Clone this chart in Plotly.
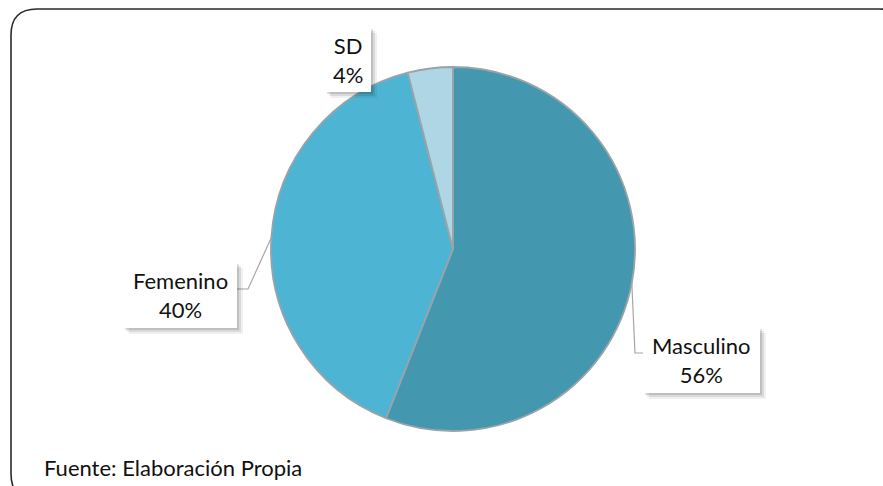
import math
import plotly.graph_objects as go

# ---- data ----
categories = ["Masculino", "Femenino", "SD"]
values = [56, 40, 4]
colors = ["#4397AE", "#4DB5D3", "#AED6E4"]
source_text = "Fuente: Elaboración Propia"

W, H = 883, 486

def px(x):
    return x / W

def py(y):
    return 1 - y / H

# pie geometry (pixels)
CX, CY, R = 453, 249, 182

fig = go.Figure()
fig.add_trace(go.Pie(
    labels=categories,
    values=values,
    sort=False,
    direction="clockwise",
    rotation=0,
    marker=dict(colors=colors, line=dict(color="#9aa3a8", width=1.8)),
    textinfo="none",
    hoverinfo="label+percent",
    showlegend=False,
    domain=dict(x=[px(CX - R), px(CX + R)], y=[py(CY + R), py(CY - R)]),
))

shapes = []

# rounded outer border
x0, y0, x1, y1, r = 11, 9, 905, 500, 26
path = (
    f"M {px(x0)},{py(y0 + r)} "
    f"Q {px(x0)},{py(y0)} {px(x0 + r)},{py(y0)} "
    f"L {px(x1 - r)},{py(y0)} "
    f"Q {px(x1)},{py(y0)} {px(x1)},{py(y0 + r)} "
    f"L {px(x1)},{py(y1 - r)} "
    f"Q {px(x1)},{py(y1)} {px(x1 - r)},{py(y1)} "
    f"L {px(x0 + r)},{py(y1)} "
    f"Q {px(x0)},{py(y1)} {px(x0)},{py(y1 - r)} Z"
)
shapes.append(dict(type="path", path=path, xref="paper", yref="paper",
                   line=dict(color="#2b2b2b", width=1.6), fillcolor="rgba(0,0,0,0)"))

# label boxes (pixel layout): (left, top, right, bottom)
boxes = {
    "Masculino": (643, 327, 760, 393),
    "Femenino": (123, 262, 237, 328),
    "SD": (325, 27, 371, 92),
}
# leader elbows (pixel layout); None = no leader
elbows = {
    "Masculino": [(635, 353), (643, 353)],
    "Femenino": [(248, 289), (237, 289)],
    "SD": None,
}

total = sum(values)
cum = 0
annotations = []
for cat, val in zip(categories, values):
    mid = (cum + val / 2) / total * 360
    cum += val
    ex = CX + R * math.sin(math.radians(mid))
    ey = CY - R * math.cos(math.radians(mid))
    if elbows[cat]:
        pts = [(ex, ey)] + elbows[cat]
        p = "M " + " L ".join(f"{px(a)},{py(b)}" for a, b in pts)
        shapes.append(dict(type="path", path=p, xref="paper", yref="paper",
                           line=dict(color="#a6a6a6", width=1.2)))
    bl, bt, br, bb = boxes[cat]
    # soft shadow
    for off, a in [(6, 0.06), (4, 0.09), (2, 0.12)]:
        shapes.append(dict(type="rect", xref="paper", yref="paper",
                           x0=px(bl + off), x1=px(br + off), y0=py(bb + off), y1=py(bt + off),
                           fillcolor=f"rgba(0,0,0,{a})", line=dict(width=0)))
    shapes.append(dict(type="rect", xref="paper", yref="paper",
                       x0=px(bl), x1=px(br), y0=py(bb), y1=py(bt),
                       fillcolor="white", line=dict(width=0)))
    pct = round(val / total * 100)
    annotations.append(dict(
        x=px((bl + br) / 2), y=py((bt + bb) / 2), xref="paper", yref="paper",
        xanchor="center", yanchor="middle",
        text=f"{cat}<br>{pct}%", showarrow=False, align="center",
        font=dict(family="Lato", size=22, color="#111111"),
    ))

annotations.append(dict(
    x=px(42), y=py(467), xref="paper", yref="paper", xanchor="left", yanchor="middle",
    text=source_text, showarrow=False,
    font=dict(family="Lato", size=22, color="#111111"),
))

fig.update_layout(
    width=W, height=H,
    margin=dict(l=0, r=0, t=0, b=0),
    paper_bgcolor="white", plot_bgcolor="white",
    shapes=shapes, annotations=annotations,
)

fig.write_html("out.html")
